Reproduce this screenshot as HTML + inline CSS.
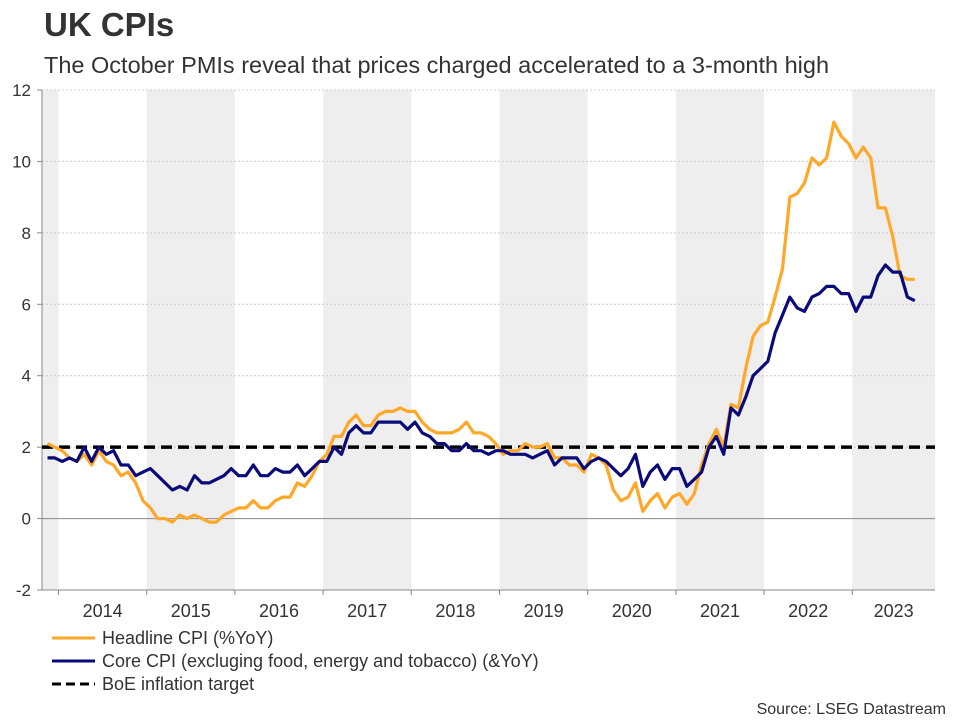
<!DOCTYPE html>
<html><head><meta charset="utf-8"><style>
body{margin:0;background:#fff;font-family:"Liberation Sans",Arial,sans-serif;}
svg text{font-family:"Liberation Sans",Arial,sans-serif;}
</style></head><body>
<svg id="chart" width="960" height="720" xmlns="http://www.w3.org/2000/svg">
<text x="44" y="36" font-size="33" font-weight="bold" fill="#333">UK CPIs</text>
<text x="44" y="73" font-size="23.5" fill="#333">The October PMIs reveal that prices charged accelerated to a 3-month high</text>
<g id="bands"></g><g id="grid"></g><g id="axes"></g><g id="series"></g>
<g>
<line x1="52" y1="638" x2="95" y2="638" stroke="#FFA726" stroke-width="3"/>
<text x="102" y="644" font-size="18" fill="#333">Headline CPI (%YoY)</text>
<line x1="52" y1="661" x2="95" y2="661" stroke="#0A0A7A" stroke-width="3"/>
<text x="102" y="667" font-size="18" fill="#333">Core CPI (excluging food, energy and tobacco) (&amp;YoY)</text>
<line x1="52" y1="684" x2="95" y2="684" stroke="#000" stroke-width="3" stroke-dasharray="9,5"/>
<text x="102" y="690" font-size="18" fill="#333">BoE inflation target</text>
</g>
<text x="946" y="714" font-size="16" fill="#333" text-anchor="end">Source: LSEG Datastream</text>
</svg>
<script>
const years=[2014,2015,2016,2017,2018,2019,2020,2021,2022,2023];
const yTicks=[-2,0,2,4,6,8,10,12];
const startYear=2013, startMonth=10; // Nov 2013 (0-based month)
const headline=[2.1,2.0,1.9,1.7,1.6,1.8,1.5,1.9,1.6,1.5,1.2,1.3,1.0,0.5,0.3,0.0,0.0,-0.1,0.1,0.0,0.1,0.0,-0.1,-0.1,0.1,0.2,0.3,0.3,0.5,0.3,0.3,0.5,0.6,0.6,1.0,0.9,1.2,1.6,1.8,2.3,2.3,2.7,2.9,2.6,2.6,2.9,3.0,3.0,3.1,3.0,3.0,2.7,2.5,2.4,2.4,2.4,2.5,2.7,2.4,2.4,2.3,2.1,1.8,1.9,1.9,2.1,2.0,2.0,2.1,1.7,1.7,1.5,1.5,1.3,1.8,1.7,1.5,0.8,0.5,0.6,1.0,0.2,0.5,0.7,0.3,0.6,0.7,0.4,0.7,1.5,2.1,2.5,2.0,3.2,3.1,4.2,5.1,5.4,5.5,6.2,7.0,9.0,9.1,9.4,10.1,9.9,10.1,11.1,10.7,10.5,10.1,10.4,10.1,8.7,8.7,7.9,6.8,6.7,6.7];
const core=[1.7,1.7,1.6,1.7,1.6,2.0,1.6,2.0,1.8,1.9,1.5,1.5,1.2,1.3,1.4,1.2,1.0,0.8,0.9,0.8,1.2,1.0,1.0,1.1,1.2,1.4,1.2,1.2,1.5,1.2,1.2,1.4,1.3,1.3,1.5,1.2,1.4,1.6,1.6,2.0,1.8,2.4,2.6,2.4,2.4,2.7,2.7,2.7,2.7,2.5,2.7,2.4,2.3,2.1,2.1,1.9,1.9,2.1,1.9,1.9,1.8,1.9,1.9,1.8,1.8,1.8,1.7,1.8,1.9,1.5,1.7,1.7,1.7,1.4,1.6,1.7,1.6,1.4,1.2,1.4,1.8,0.9,1.3,1.5,1.1,1.4,1.4,0.9,1.1,1.3,2.0,2.3,1.8,3.1,2.9,3.4,4.0,4.2,4.4,5.2,5.7,6.2,5.9,5.8,6.2,6.3,6.5,6.5,6.3,6.3,5.8,6.2,6.2,6.8,7.1,6.9,6.9,6.2,6.1];
const target=2;
const NS="http://www.w3.org/2000/svg";
const L=42,R=935,T=90,B=590,yMin=-2,yMax=12,y2014=58.5,yearW=88.2;
const X=t=>y2014+(t-2014)*yearW;
const Y=v=>T+(yMax-v)/(yMax-yMin)*(B-T);
const mx=i=>X(startYear+(startMonth+i+0.5)/12);
function el(tag,attrs,parent){const e=document.createElementNS(NS,tag);for(const k in attrs)e.setAttribute(k,attrs[k]);document.getElementById(parent).appendChild(e);return e;}
years.forEach((yr,i)=>{
  if(i%2===1){const r=el('rect',{x:X(yr),y:T,width:Math.min(X(yr+1),R)-X(yr),height:B-T,fill:'#eeeeee'},'bands');
  
  }
  const t=el('text',{x:(X(yr)+Math.min(X(yr+1),R))/2,y:617,'font-size':18,fill:'#333','text-anchor':'middle'},'axes');
  t.textContent=yr;
  
  
  el('line',{x1:X(yr),y1:B,x2:X(yr),y2:B+5,stroke:'#888'},'axes');
});
const b0=el('rect',{x:L,y:T,width:X(2014)-L,height:B-T,fill:'#eeeeee'},'bands');


yTicks.forEach(v=>{
  if(v!==0&&v!==yMin){const g=el('line',{x1:L,y1:Y(v),x2:R,y2:Y(v),stroke:'#cccccc','stroke-dasharray':'2,2','stroke-width':1},'grid');
  
  }
  el('line',{x1:37,y1:Y(v),x2:L,y2:Y(v),stroke:'#888'},'axes');
  const t=el('text',{x:31,y:Y(v)+6,'font-size':17,fill:'#333','text-anchor':'end'},'axes');
  t.textContent=v;
  
  
});
const z=el('line',{x1:L,y1:Y(0),x2:R,y2:Y(0),stroke:'#888','stroke-width':1},'axes');


const ax=el('line',{x1:L,y1:T,x2:L,y2:B,stroke:'#888'},'axes');


const bx=el('line',{x1:L,y1:B,x2:R,y2:B,stroke:'#888'},'axes');


const tl=el('line',{x1:L,y1:Y(target),x2:R,y2:Y(target),stroke:'#000','stroke-width':3.5,'stroke-dasharray':'11,6'},'series');


const pts=a=>a.map((v,i)=>mx(i).toFixed(1)+','+Y(v).toFixed(1)).join(' ');
const h=el('polyline',{points:pts(headline),fill:'none',stroke:'#FFA726','stroke-width':3.2,'stroke-linejoin':'round'},'series');


const c=el('polyline',{points:pts(core),fill:'none',stroke:'#0A0A7A','stroke-width':3.2,'stroke-linejoin':'round'},'series');


</script>
</body></html>
